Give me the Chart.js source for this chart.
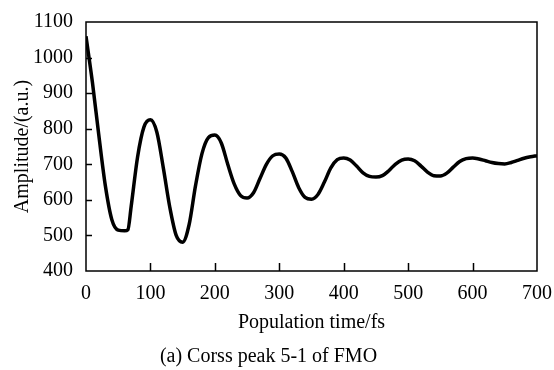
<!DOCTYPE html>
<html>
<head>
<meta charset="utf-8">
<script src="https://cdn.jsdelivr.net/npm/chart.js@4/dist/chart.umd.min.js"></script>
<style>
  html, body { margin: 0; padding: 0; background: #fff; }
  #wrap { width: 554px; height: 370px; }
</style>
</head>
<body>
<div id="wrap"><canvas id="chart" width="554" height="370"></canvas></div>
<script>
// population time (fs) and amplitude
const times = [0, 10, 20, 30, 40, 50, 60, 65, 70, 80, 90, 100, 110, 120, 130, 140, 150, 160, 170, 180, 190, 200,
    210, 220, 230, 240, 250, 260, 270, 280, 290, 300, 310, 320, 330, 340, 350, 360, 370, 380, 390, 400,
    410, 420, 430, 440, 450, 460, 470, 480, 490, 500, 510, 520, 530, 540, 550, 560, 570, 580, 590, 600,
    610, 620, 630, 640, 650, 660, 670, 680, 690, 700];
const amplitude = [1060, 930, 780, 640, 545, 515, 513, 516, 580, 720, 805, 825, 790, 690, 580, 500, 481, 530, 640, 730, 775, 782,
    760, 700, 645, 612, 605, 620, 660, 700, 724, 729, 718, 680, 635, 607, 602, 615, 650, 690, 713, 718,
    712, 695, 676, 666, 664, 668, 682, 700, 712, 715, 710, 695, 678, 668, 667, 675, 692, 708, 716, 718,
    715, 710, 705, 702, 701, 705, 711, 717, 721, 724];

const yTicks = [400, 500, 600, 700, 800, 900, 1000, 1100];
const xTicks = [0, 100, 200, 300, 400, 500, 600, 700];

const serif = "'Liberation Serif', 'DejaVu Serif', serif";

// inward tick marks and the closed frame
const frameTicks = {
    id: 'frameTicks',
    afterDraw(chart) {
        const ctx = chart.ctx;
        const a = chart.chartArea;
        const x = chart.scales.x, y = chart.scales.y;
        ctx.save();
        ctx.strokeStyle = '#000';
        ctx.lineWidth = 1.5;
        ctx.strokeRect(a.left, a.top, a.right - a.left, a.bottom - a.top);
        ctx.beginPath();
        yTicks.slice(1, -1).forEach(v => {
            const py = Math.round(y.getPixelForValue(v)) + 0.5;
            ctx.moveTo(a.left, py);
            ctx.lineTo(a.left + 6, py);
        });
        xTicks.slice(1, -1).forEach(v => {
            const px = Math.round(x.getPixelForValue(v)) + 0.5;
            ctx.moveTo(px, a.bottom);
            ctx.lineTo(px, a.bottom - 8);
        });
        ctx.stroke();
        ctx.restore();
    }
};

new Chart(document.getElementById('chart').getContext('2d'), {
    type: 'line',
    data: {
        datasets: [{
            data: times.map((t, i) => ({ x: t, y: amplitude[i] })),
            borderColor: '#000',
            borderWidth: 3.5,
            pointRadius: 0,
            cubicInterpolationMode: 'monotone',
            fill: false
        }]
    },
    options: {
        responsive: false,
        animation: false,
        layout: { padding: { left: 0, right: 17, top: 22, bottom: 0 } },
        plugins: {
            legend: { display: false },
            tooltip: { enabled: false },
            title: {
                display: true,
                position: 'bottom',
                text: '(a) Corss peak 5-1 of FMO',
                color: '#000',
                font: { family: serif, size: 20, weight: 'normal' },
                padding: { top: 6, bottom: 1 }
            }
        },
        scales: {
            x: {
                type: 'linear',
                min: 0,
                max: 700,
                afterBuildTicks: s => { s.ticks = xTicks.map(v => ({ value: v })); },
                afterFit: s => { s.height = 68; s.paddingLeft = 0; s.paddingRight = 0; },
                grid: { display: false, drawTicks: false },
                border: { display: false },
                ticks: {
                    color: '#000',
                    padding: 11,
                    maxRotation: 0,
                    font: { family: serif, size: 20 },
                    callback: v => String(v)
                },
                title: {
                    display: true,
                    text: 'Population time/fs',
                    color: '#000',
                    font: { family: serif, size: 20 },
                    padding: { top: 0, bottom: 4 }
                }
            },
            y: {
                min: 400,
                max: 1100,
                afterBuildTicks: s => { s.ticks = yTicks.map(v => ({ value: v })); },
                afterFit: s => { s.width = 86; s.paddingTop = 0; s.paddingBottom = 0; },
                grid: { display: false, drawTicks: false },
                border: { display: false },
                ticks: {
                    color: '#000',
                    padding: 13,
                    font: { family: serif, size: 20 },
                    callback: v => String(v)
                },
                title: {
                    display: true,
                    text: 'Amplitude/(a.u.)',
                    color: '#000',
                    font: { family: serif, size: 20 },
                    padding: { top: 11, bottom: 0 }
                }
            }
        }
    },
    plugins: [frameTicks]
});
</script>
</body>
</html>
